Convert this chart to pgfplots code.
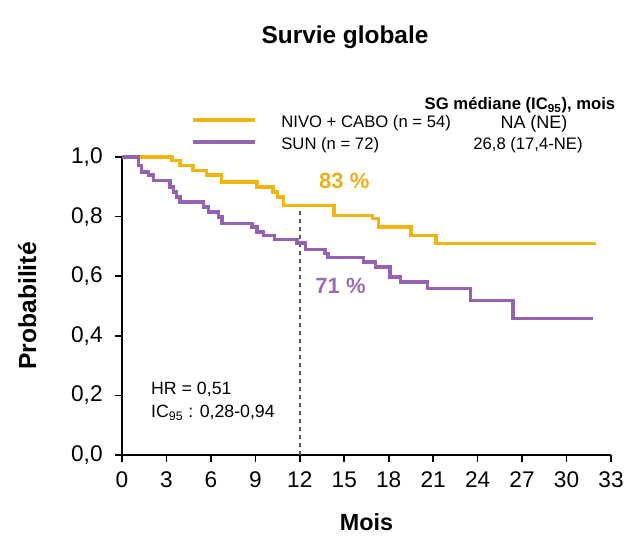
\documentclass[border=0pt]{standalone}
\usepackage{pgfplots}
\pgfplotsset{compat=1.18}
\usepackage{fontspec}
\setmainfont{Liberation Sans}
\definecolor{cyel}{HTML}{F0B411}
\definecolor{cpur}{HTML}{9462AE}
\definecolor{tyel}{HTML}{E8AE1C}
\definecolor{tpur}{HTML}{9A6CB4}
\begin{document}
\begin{tikzpicture}
\path[use as bounding box] (-91.5pt,-66.75pt) rectangle (381pt,341.25pt);
\begin{axis}[
  at={(0,0)}, anchor=south west,
  scale only axis, width=366.75pt, height=223.5pt,
  xmin=0, xmax=33, ymin=0, ymax=1,
  axis lines=left, axis line style={line width=1.4pt, -},
  xtick={0,3,...,33}, ytick={0,0.2,...,1.0},
  tick style={line width=1.2pt, black}, tick align=outside, major tick length=5pt,
  /pgf/number format/assume math mode=true,
  /pgf/number format/use comma, /pgf/number format/fixed, /pgf/number format/fixed zerofill,
  yticklabel style={/pgf/number format/precision=1, xshift=-6pt},
  xticklabel style={/pgf/number format/precision=0, /pgf/number format/fixed zerofill=false, yshift=-4pt},
  ticklabel style={font=\fontsize{17}{20}\selectfont},
  xlabel={\textbf{Mois}}, ylabel={\textbf{Probabilité}},
  xlabel style={font=\fontsize{17.5}{20}\selectfont, at={(axis description cs:0.5,-0.225)}, anchor=center},
  ylabel style={font=\fontsize{18.5}{21}\selectfont, at={(axis description cs:-0.194,0.5)}, anchor=center},
  clip=false,
]
\draw[gray!70!black, dashed, line width=1.1pt] (axis cs:12,0) -- (axis cs:12,0.838);
\addplot[const plot, cyel, line width=2.6pt] coordinates {
(0,1.0) (3.36,0.989) (3.9,0.972) (4.8,0.955) (5.7,0.939) (6.7,0.916) (9.1,0.899)
(10.2,0.883) (10.5,0.866) (10.9,0.838) (14.3,0.804) (16.9,0.793) (17.3,0.765)
(19.5,0.737) (21.2,0.71) (32.0,0.71)};
\addplot[const plot, cpur, line width=2.6pt] coordinates {
(0,1.0) (1.10,0.972) (1.33,0.950) (1.78,0.939) (2.12,0.922) (3.24,0.899) (3.47,0.883)
(3.69,0.866) (3.92,0.849) (5.49,0.832) (5.83,0.815) (6.51,0.799) (6.74,0.776)
(8.76,0.765) (9.10,0.748) (9.55,0.737) (10.3,0.723) (11.8,0.712) (12.4,0.690)
(13.7,0.676) (13.9,0.662) (16.3,0.648) (17.1,0.631) (18.1,0.597) (18.8,0.581)
(20.6,0.558) (23.5,0.519) (26.4,0.458) (31.8,0.458)};
\node[tyel, font=\fontsize{16.5}{18}\selectfont\bfseries] at (axis cs:15.0,0.92) {83 \%};
\node[tpur, font=\fontsize{16.5}{18}\selectfont\bfseries] at (axis cs:14.75,0.567) {71 \%};
\node[anchor=west, align=left, font=\fontsize{13.3}{17}\selectfont] at (axis cs:1.65,0.18) {HR = 0,51\\IC\textsubscript{95} : 0,28-0,94};
\end{axis}
\node[font=\fontsize{18.3}{21}\selectfont\bfseries] at (167.25pt,313.5pt) {Survie globale};
\draw[cyel, line width=3pt] (53.25pt,251.25pt) -- (99.75pt,251.25pt);
\draw[cpur, line width=3pt] (53.25pt,234.75pt) -- (99.75pt,234.75pt);
\node[anchor=west, font=\fontsize{12.5}{15}\selectfont] at (116pt,248.5pt) {NIVO + CABO (n = 54)};
\node[anchor=west, font=\fontsize{12.5}{15}\selectfont] at (116pt,232pt) {SUN (n = 72)};
\node[font=\fontsize{12.5}{15}\selectfont\bfseries] at (298.5pt,262.5pt) {SG médiane (IC\textsubscript{95}), mois};
\node[font=\fontsize{13.5}{15}\selectfont] at (309pt,248.5pt) {NA (NE)};
\node[font=\fontsize{12.5}{15}\selectfont] at (304.5pt,232pt) {26,8 (17,4-NE)};
\end{tikzpicture}
\end{document}
